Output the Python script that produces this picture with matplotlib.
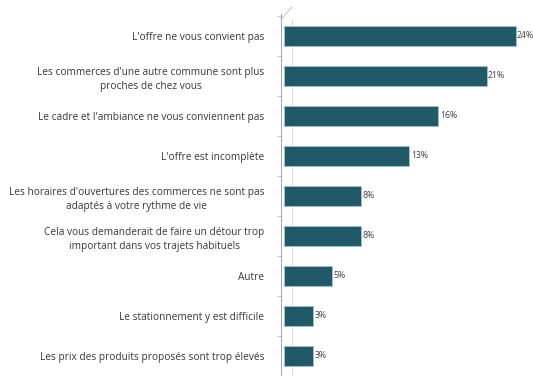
import matplotlib
matplotlib.use("Agg")
import matplotlib.pyplot as plt
from matplotlib.lines import Line2D

categories = [
    "L'offre ne vous convient pas",
    "Les commerces d'une autre commune sont plus\nproches de chez vous",
    "Le cadre et l'ambiance ne vous conviennent pas",
    "L'offre est incomplète",
    "Les horaires d'ouvertures des commerces ne sont pas\nadaptés à votre rythme de vie",
    "Cela vous demanderait de faire un détour trop\nimportant dans vos trajets habituels",
    "Autre",
    "Le stationnement y est difficile",
    "Les prix des produits proposés sont trop élevés",
]
values = [24, 21, 16, 13, 8, 8, 5, 3, 3]
value_labels = ["24%", "21%", "16%", "13%", "8%", "8%", "5%", "3%", "3%"]

plt.rcParams['font.family'] = ['Open Sans', 'DejaVu Sans']

fig = plt.figure(figsize=(5.33, 3.76), dpi=100)
ax = fig.add_axes([281/533, 0.0, 1 - 281/533, 1 - 14/376])

bar_color = "#215968"
y = list(range(len(categories)))
bars = ax.barh(y, values, height=0.48, color=bar_color, edgecolor="#9fc6d0",
               linewidth=0.6, zorder=3)

for yi, v, lab in zip(y, values, value_labels):
    ax.text(v + 0.15, yi, lab, va="center", ha="left", fontsize=6.3, color="#404040")

ax.set_xlim(-0.31, 25.8)
ax.set_ylim(8.45, -0.55)
ax.set_yticks(y)
ax.set_yticklabels(categories, fontsize=7.3, color="#383838", multialignment="center",
                   linespacing=1.45)
ax.tick_params(axis="y", length=0, pad=12)
ax.set_yticks([i + 0.5 for i in range(-1, len(categories))], minor=True)
ax.tick_params(axis="y", which="minor", length=3, color="#bbbbbb", width=0.6)
ax.set_xticks([])
for s in ["top", "right", "bottom"]:
    ax.spines[s].set_visible(False)
ax.spines["left"].set_color("#aaaaaa")
ax.spines["left"].set_linewidth(0.8)

# 3D-style back wall lines
ax.add_line(Line2D([11/252, 11/252], [0, 0.985], transform=ax.transAxes,
                   color="#d5d5d5", linewidth=0.6, clip_on=False, zorder=1))
ax.add_line(Line2D([0, 11/252], [0.985, 1.02], transform=ax.transAxes,
                   color="#bbbbbb", linewidth=0.6, clip_on=False, zorder=1))
ax.add_line(Line2D([0, 0], [0.985, 1.0], transform=ax.transAxes,
                   color="#aaaaaa", linewidth=0.8, clip_on=False, zorder=1))

fig.savefig("out.png", dpi=100, facecolor="white")
